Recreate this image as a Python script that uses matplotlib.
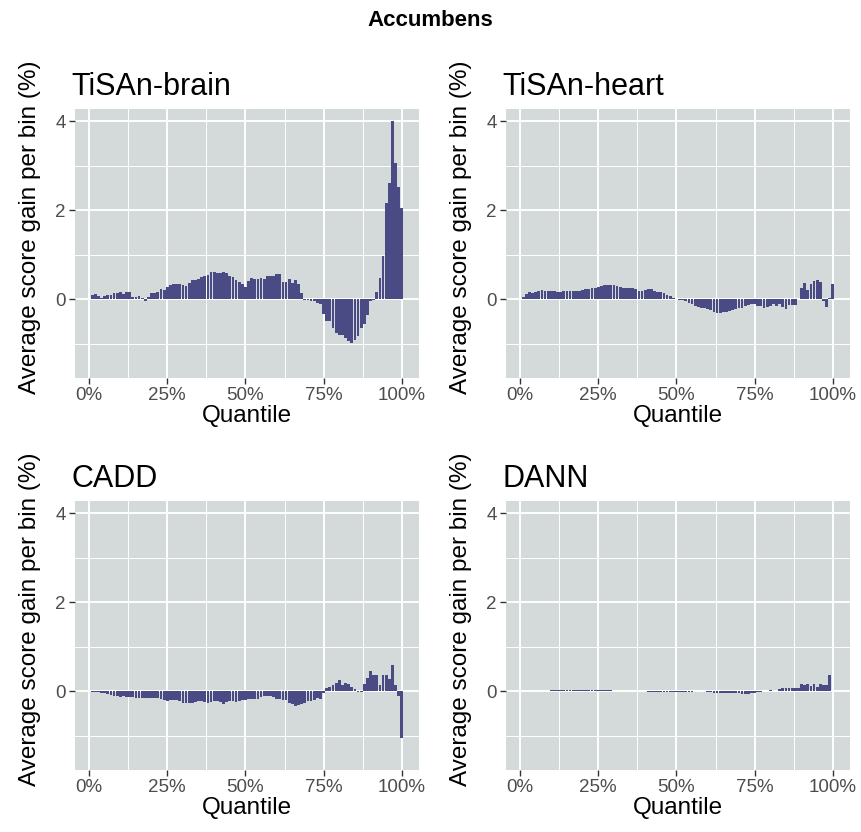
import matplotlib
matplotlib.use("Agg")
import matplotlib.pyplot as plt
import numpy as np
from matplotlib.ticker import FixedLocator

plt.rcParams['font.family'] = ['Liberation Sans', 'DejaVu Sans']

suptitle = "Accumbens"
panel_titles = ["TiSAn-brain", "TiSAn-heart", "CADD", "DANN"]
quantile = list(range(1, 101))

brain = [0.10, 0.12, 0.06, 0.03, 0.07, 0.09, 0.09, 0.13, 0.13, 0.16,
         0.12, 0.16, 0.16, 0.05, 0.045, 0.07, 0.015, -0.05, 0.04, 0.13,
         0.13, 0.15, 0.22, 0.20, 0.27, 0.32, 0.345, 0.35, 0.35, 0.31,
         0.29, 0.37, 0.44, 0.44, 0.46, 0.49, 0.52, 0.54, 0.62, 0.61,
         0.59, 0.58, 0.62, 0.59, 0.52, 0.49, 0.42, 0.39, 0.35, 0.27,
         0.40, 0.47, 0.46, 0.46, 0.48, 0.46, 0.52, 0.51, 0.53, 0.56,
         0.56, 0.38, 0.38, 0.46, 0.36, 0.44, 0.34, 0.13, -0.01, -0.02,
         -0.04, -0.05, -0.08, -0.10, -0.33, -0.50, -0.50, -0.65, -0.76, -0.80,
         -0.80, -0.88, -0.94, -0.99, -0.91, -0.84, -0.65, -0.56, -0.35, -0.04,
         -0.02, 0.17, 0.47, 0.96, 2.16, 2.62, 4.00, 3.07, 2.53, 2.05]

heart = [0.04, 0.12, 0.15, 0.13, 0.16, 0.19, 0.20, 0.19, 0.19, 0.19,
         0.18, 0.16, 0.16, 0.19, 0.19, 0.19, 0.19, 0.19, 0.19, 0.20,
         0.22, 0.23, 0.25, 0.26, 0.28, 0.30, 0.31, 0.31, 0.31, 0.31,
         0.30, 0.28, 0.26, 0.24, 0.26, 0.25, 0.22, 0.19, 0.19, 0.20,
         0.22, 0.22, 0.19, 0.17, 0.16, 0.13, 0.10, 0.07, 0.03, 0.01,
         -0.01, -0.03, -0.05, -0.09, -0.12, -0.16, -0.18, -0.19, -0.19, -0.22,
         -0.25, -0.28, -0.31, -0.31, -0.30, -0.29, -0.27, -0.24, -0.22, -0.21,
         -0.19, -0.16, -0.13, -0.10, -0.12, -0.16, -0.15, -0.20, -0.18, -0.15,
         -0.12, -0.15, -0.12, -0.18, -0.22, -0.14, -0.14, -0.14, 0.0, 0.26,
         0.36, 0.21, 0.33, 0.41, 0.43, 0.38, -0.04, -0.18, 0.02, 0.34]

cadd = [-0.01, -0.015, -0.02, -0.04, -0.05, -0.07, -0.09, -0.10, -0.11, -0.13,
        -0.12, -0.13, -0.13, -0.13, -0.15, -0.16, -0.16, -0.15, -0.15, -0.16,
        -0.15, -0.16, -0.18, -0.21, -0.22, -0.20, -0.20, -0.21, -0.22, -0.26,
        -0.27, -0.27, -0.27, -0.25, -0.22, -0.23, -0.25, -0.26, -0.24, -0.23,
        -0.22, -0.25, -0.28, -0.25, -0.22, -0.23, -0.25, -0.23, -0.20, -0.19,
        -0.17, -0.17, -0.17, -0.17, -0.13, -0.11, -0.11, -0.10, -0.14, -0.17,
        -0.17, -0.19, -0.20, -0.26, -0.30, -0.34, -0.31, -0.28, -0.26, -0.22,
        -0.23, -0.19, -0.15, -0.17, -0.05, 0.06, 0.10, 0.14, 0.19, 0.26,
        0.13, 0.19, 0.17, 0.10, 0.05, -0.02, -0.02, 0.17, 0.30, 0.45,
        0.37, 0.37, 0.13, 0.36, 0.37, 0.28, 0.58, 0.13, -0.10, -1.05]

dann = [0.005, 0.005, 0.005, 0.005, 0.005, 0.005, 0.005, 0.005, 0.01, 0.02,
        0.02, 0.025, 0.03, 0.025, 0.02, 0.025, 0.03, 0.03, 0.025, 0.025,
        0.03, 0.03, 0.035, 0.03, 0.03, 0.025, 0.02, 0.02, 0.02, 0.005,
        0.005, 0.005, 0.005, 0.005, 0.005, 0.005, 0.005, 0.005, 0.005, 0.005,
        -0.02, -0.02, -0.025, -0.025, -0.03, -0.03, -0.03, -0.025, -0.025, -0.02,
        -0.02, -0.02, -0.02, -0.02, -0.02, -0.005, -0.005, -0.005, -0.005, -0.03,
        -0.03, -0.035, -0.04, -0.04, -0.04, -0.045, -0.04, -0.045, -0.05, -0.05,
        -0.055, -0.06, -0.055, -0.05, -0.04, -0.03, -0.02, -0.005, -0.005, 0.03,
        0.0, 0.01, 0.04, 0.07, 0.07, 0.07, 0.075, 0.075, 0.08, 0.15,
        0.13, 0.15, 0.11, 0.15, 0.10, 0.17, 0.13, 0.13, 0.37, 0.0]

series = [brain, heart, cadd, dann]
x_ticks = [0, 25, 50, 75, 100]
x_ticklabels = ["0%", "25%", "50%", "75%", "100%"]
y_ticks = [0, 2, 4]
y_ticklabels = ["0", "2", "4"]
x_label = "Quantile"
y_label = "Average score gain per bin (%)"

W, H = 861, 832
fig = plt.figure(figsize=(W / 100, H / 100), dpi=100)
fig.patch.set_facecolor("white")

panel_bg = "#D4DADA"
bar_col = "#4A4B85"

# pixel boxes (left, top, right, bottom)
boxes = [(75, 109, 419, 378), (506, 109, 850, 378),
         (75, 501, 419, 770), (506, 501, 850, 770)]

for i, (vals, title, box) in enumerate(zip(series, panel_titles, boxes)):
    l, t, r, b = box
    ax = fig.add_axes([l / W, 1 - b / H, (r - l) / W, (b - t) / H])
    ax.set_facecolor(panel_bg)
    ax.bar(quantile, vals, width=0.88, color=bar_col, linewidth=0, zorder=3)
    ax.set_xlim(-4.5, 105.5)
    ax.set_ylim(-1.775, 4.275)
    ax.xaxis.set_major_locator(FixedLocator(x_ticks))
    ax.set_xticklabels(x_ticklabels)
    ax.yaxis.set_major_locator(FixedLocator(y_ticks))
    ax.set_yticklabels(y_ticklabels)
    ax.xaxis.set_minor_locator(FixedLocator([12.5, 37.5, 62.5, 87.5]))
    ax.yaxis.set_minor_locator(FixedLocator([-1, 1, 3]))
    ax.grid(which="major", color="white", linewidth=1.4, zorder=1)
    ax.grid(which="minor", color="white", linewidth=0.7, zorder=1)
    ax.set_axisbelow(True)
    for s in ax.spines.values():
        s.set_visible(False)
    ax.tick_params(which="major", length=4, width=1.0, color="#333333",
                   labelcolor="#4D4D4D", labelsize=13.5, pad=2.5)
    ax.tick_params(which="minor", length=0)
    ax.set_xlabel(x_label, fontsize=17.5)
    ax.xaxis.set_label_coords(0.5, -0.10)
    ax.set_ylabel(y_label, fontsize=17.5)
    ax.yaxis.set_label_coords(-0.10, 0.56)
    ax.set_title(title, fontsize=22, loc="left", pad=10, x=-0.01)

fig.text(0.5, 1 - 20 / H, suptitle, ha="center", va="center",
         fontsize=16, fontweight="bold")

fig.savefig("out.png", dpi=100)
